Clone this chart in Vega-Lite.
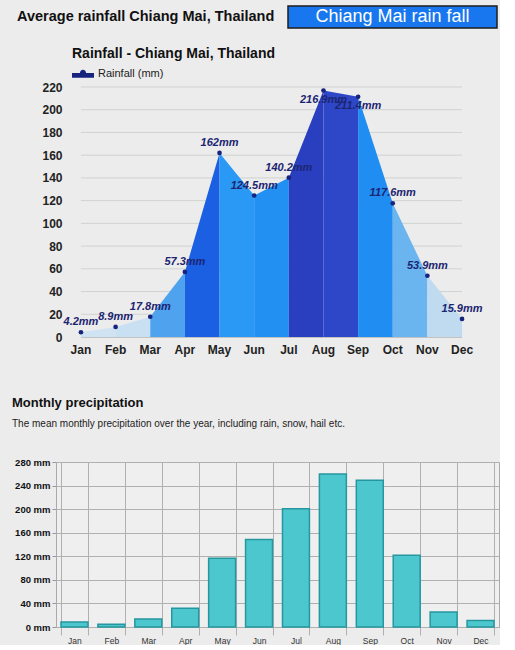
{
  "$schema": "https://vega.github.io/schema/vega-lite/v6.json",
  "background": "#ececec",
  "padding": {"left": 11, "top": 5, "right": 0, "bottom": 0},
  "config": {"font": "Liberation Sans", "view": {"stroke": null}},
  "datasets": {
    "rain": [
      {"month": "Jan", "value": 4.2},
      {"month": "Feb", "value": 8.9},
      {"month": "Mar", "value": 17.8},
      {"month": "Apr", "value": 57.3},
      {"month": "May", "value": 162},
      {"month": "Jun", "value": 124.5},
      {"month": "Jul", "value": 140.2},
      {"month": "Aug", "value": 216.9},
      {"month": "Sep", "value": 211.4},
      {"month": "Oct", "value": 117.6},
      {"month": "Nov", "value": 53.9},
      {"month": "Dec", "value": 15.9}
    ],
    "segments": [
      {"seg": "s01", "month": "Jan"}, {"seg": "s01", "month": "Feb"},
      {"seg": "s02", "month": "Feb"}, {"seg": "s02", "month": "Mar"},
      {"seg": "s03", "month": "Mar"}, {"seg": "s03", "month": "Apr"},
      {"seg": "s04", "month": "Apr"}, {"seg": "s04", "month": "May"},
      {"seg": "s05", "month": "May"}, {"seg": "s05", "month": "Jun"},
      {"seg": "s06", "month": "Jun"}, {"seg": "s06", "month": "Jul"},
      {"seg": "s07", "month": "Jul"}, {"seg": "s07", "month": "Aug"},
      {"seg": "s08", "month": "Aug"}, {"seg": "s08", "month": "Sep"},
      {"seg": "s09", "month": "Sep"}, {"seg": "s09", "month": "Oct"},
      {"seg": "s10", "month": "Oct"}, {"seg": "s10", "month": "Nov"},
      {"seg": "s11", "month": "Nov"}, {"seg": "s11", "month": "Dec"}
    ],
    "gridlines": [
      {"value": 0}, {"value": 20}, {"value": 40}, {"value": 60}, {"value": 80}, {"value": 100},
      {"value": 120}, {"value": 140}, {"value": 160}, {"value": 180}, {"value": 200}, {"value": 220}
    ],
    "precip": [
      {"month": "Jan", "mm": 8.5},
      {"month": "Feb", "mm": 4.6},
      {"month": "Mar", "mm": 13.6},
      {"month": "Apr", "mm": 31.8},
      {"month": "May", "mm": 116.8},
      {"month": "Jun", "mm": 148.6},
      {"month": "Jul", "mm": 200.7},
      {"month": "Aug", "mm": 259.7},
      {"month": "Sep", "mm": 249},
      {"month": "Oct", "mm": 121.9},
      {"month": "Nov", "mm": 25.5},
      {"month": "Dec", "mm": 10.9}
    ]
  },
  "spacing": 41,
  "vconcat": [
    {
      "spacing": 18,
      "vconcat": [
        {
          "spacing": 0,
          "hconcat": [
            {
              "width": 231,
              "height": 22,
              "data": {"values": [{"t": "Average rainfall Chiang Mai, Thailand"}]},
              "mark": {"type": "text", "align": "left", "baseline": "middle", "dx": -154.5, "fontSize": 14.5, "fontWeight": "bold", "color": "#111111"},
              "encoding": {"text": {"field": "t"}}
            },
            {
              "width": 209,
              "height": 22,
              "view": {"fill": "#1877ee", "stroke": "#1c1c1c", "strokeWidth": 1.5},
              "data": {"values": [{"t": "Chiang Mai rain fall"}]},
              "mark": {"type": "text", "color": "#ffffff", "fontSize": 18, "baseline": "middle"},
              "encoding": {"text": {"field": "t"}}
            }
          ]
        },
        {
          "width": 431,
          "height": 250,
          "title": {
            "text": "Rainfall - Chiang Mai, Thailand",
            "anchor": "start",
            "frame": "group",
            "dx": 16,
            "fontSize": 14,
            "fontWeight": "bold",
            "color": "#111111",
            "offset": 2
          },
          "encoding": {
            "x": {
              "field": "month",
              "type": "ordinal",
              "scale": {"domain": ["Jan","Feb","Mar","Apr","May","Jun","Jul","Aug","Sep","Oct","Nov","Dec"], "padding": 0.441},
              "axis": {"title": null, "labelAngle": 0, "labelFontWeight": "bold", "labelFontSize": 12, "labelColor": "#222222", "ticks": false, "domain": false, "labelPadding": 7, "grid": false}
            },
            "y": {
              "field": "value",
              "type": "quantitative",
              "scale": {"domain": [0, 220], "nice": false},
              "axis": {"title": null, "values": [0,20,40,60,80,100,120,140,160,180,200,220], "labelOverlap": false, "labelFontWeight": "bold", "labelFontSize": 12, "labelColor": "#222222", "ticks": false, "domain": false, "grid": false, "labelPadding": -6}
            }
          },
          "layer": [
            {
              "data": {"name": "gridlines"},
              "mark": {"type": "rule", "strokeWidth": 1},
              "encoding": {
                "x": {"datum": "Jan"},
                "x2": {"datum": "Dec"},
                "color": {"condition": {"test": "datum.value === 0", "value": "#9a9a9a"}, "value": "#cfd3cf"}
              }
            },
            {
              "data": {"name": "segments"},
              "transform": [
                {"lookup": "month", "from": {"data": {"name": "rain"}, "key": "month", "fields": ["value"]}}
              ],
              "mark": {"type": "area", "opacity": 1},
              "encoding": {
                "y": {"field": "value", "type": "quantitative", "stack": null},
                "color": {
                  "field": "seg",
                  "type": "nominal",
                  "scale": {
                    "domain": ["s01","s02","s03","s04","s05","s06","s07","s08","s09","s10","s11"],
                    "range": ["#d0e3f2","#c9e0f3","#4fa3ee","#1b5fe2","#2a98f5","#2290f2","#2a3fc0","#2d47c8","#1f8df1","#6ab4ef","#c0dbf0"]
                  },
                  "legend": null
                }
              }
            },
            {
              "data": {"name": "rain"},
              "mark": {"type": "point", "filled": true, "size": 22, "opacity": 1},
              "encoding": {
                "color": {
                  "datum": "Rainfall (mm)",
                  "scale": {"range": ["#17237c"]},
                  "legend": {"orient": "none", "legendX": 16, "legendY": -24, "title": null, "symbolType": "M-1,-0.1H1V0.35H-1Z M-0.28,-0.1A0.28,0.28 0 0 1 0.28,-0.1Z", "symbolSize": 484, "symbolStrokeWidth": 0, "labelFontSize": 11, "labelColor": "#222222", "labelOffset": 4}
                }
              }
            },
            {
              "data": {"name": "rain"},
              "transform": [
                {"filter": "datum.value < 200"},
                {"calculate": "datum.value + 'mm'", "as": "label"}
              ],
              "mark": {"type": "text", "dy": -10, "fontSize": 11, "fontStyle": "italic", "fontWeight": "bold", "color": "#1c2572", "baseline": "middle"},
              "encoding": {"text": {"field": "label"}}
            },
            {
              "data": {"name": "rain"},
              "transform": [
                {"filter": "datum.value >= 200"},
                {"calculate": "datum.value + 'mm'", "as": "label"}
              ],
              "mark": {"type": "text", "dy": 9, "fontSize": 11, "fontStyle": "italic", "fontWeight": "bold", "color": "#1c2572", "baseline": "middle"},
              "encoding": {"text": {"field": "label"}}
            }
          ],
          "resolve": {"scale": {"color": "independent"}}
        }
      ]
    },
    {
      "width": 443,
      "height": 165,
      "data": {"name": "precip"},
      "view": {"fill": "#efefef", "stroke": "#aaaaaa"},
      "title": {
        "text": "Monthly precipitation",
        "subtitle": "The mean monthly precipitation over the year, including rain, snow, hail etc.",
        "anchor": "start",
        "frame": "group",
        "dx": -44,
        "fontSize": 13,
        "fontWeight": "bold",
        "color": "#111111",
        "subtitleFontSize": 10,
        "subtitleColor": "#222222",
        "subtitlePadding": 9,
        "offset": 28
      },
      "mark": {"type": "bar", "fill": "#4cc7ce", "stroke": "#26979e", "strokeWidth": 1.5},
      "encoding": {
        "x": {
          "field": "month",
          "type": "ordinal",
          "sort": null,
          "scale": {"paddingInner": 0.27, "paddingOuter": 0.135},
          "axis": {"title": null, "labelAngle": 0, "tickBand": "extent", "grid": true, "gridColor": "#b0b0b0", "tickColor": "#b0b0b0", "tickSize": 8, "domainColor": "#b0b0b0", "labelFontSize": 8.5, "labelColor": "#333333", "labelPadding": 1}
        },
        "y": {
          "field": "mm",
          "type": "quantitative",
          "scale": {"domain": [0, 280], "nice": false},
          "axis": {"title": null, "values": [0,40,80,120,160,200,240,280], "labelExpr": "datum.value + ' mm'", "labelFontWeight": "bold", "labelFontSize": 9.5, "labelColor": "#111111", "tickSize": 4, "tickColor": "#999999", "domainColor": "#aaaaaa", "gridColor": "#b0b0b0", "labelPadding": 2, "minExtent": 44, "maxExtent": 44}
        }
      }
    }
  ]
}
